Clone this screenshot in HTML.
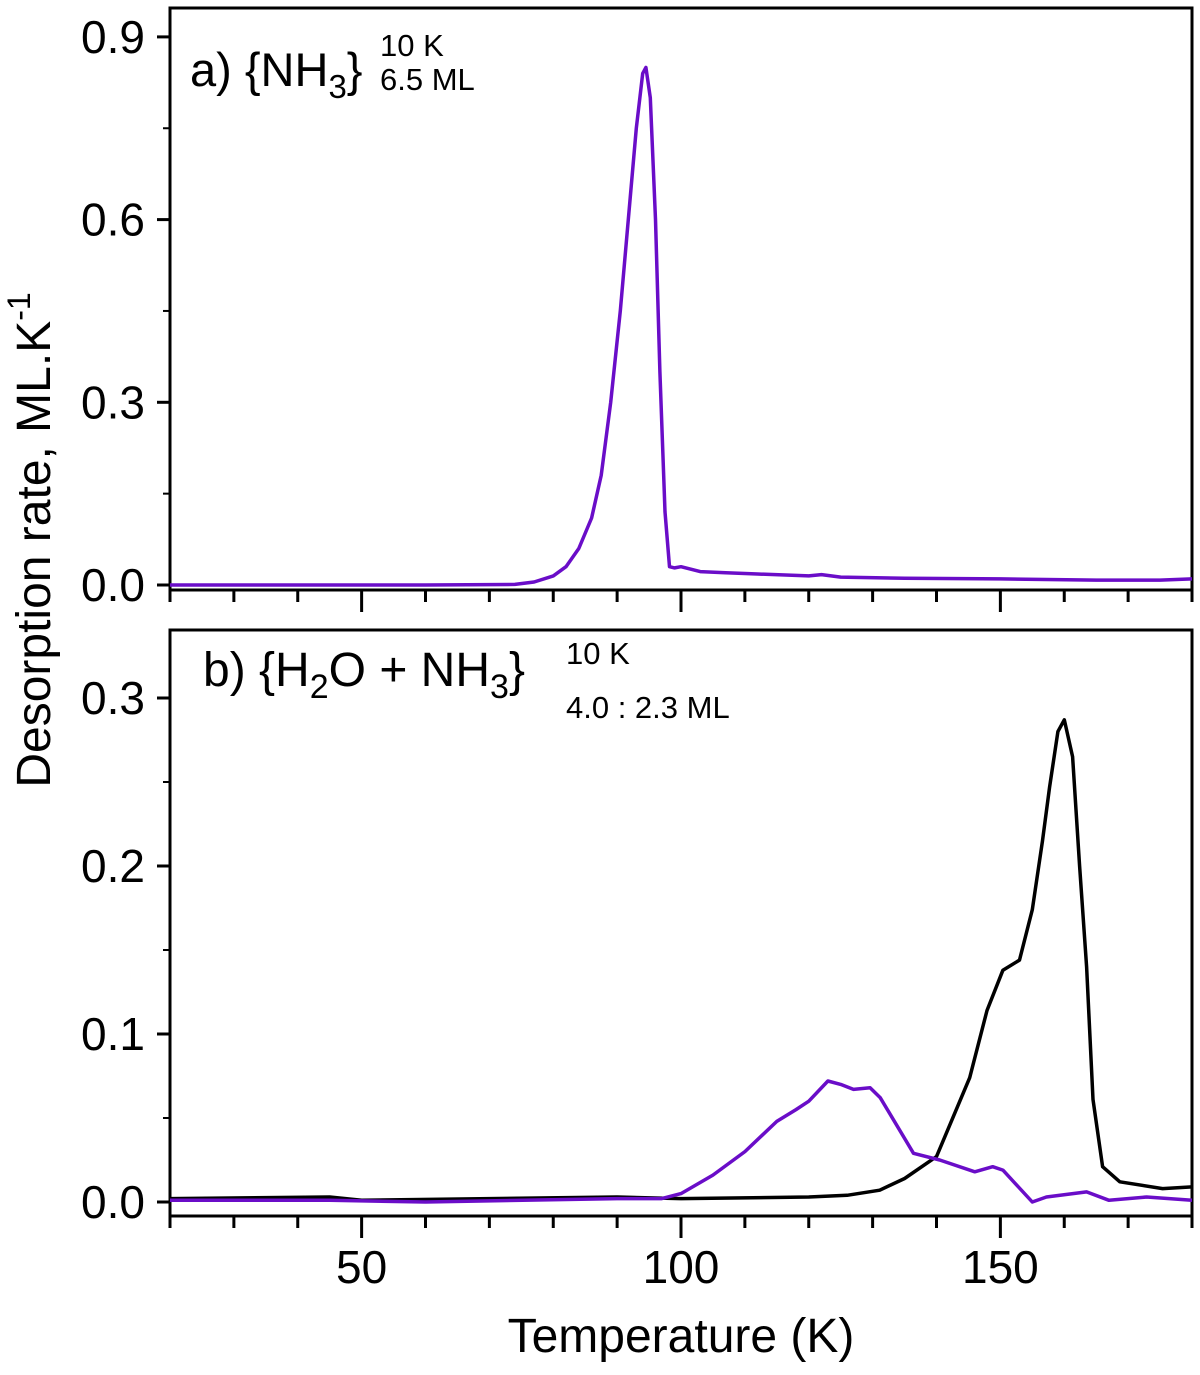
<!DOCTYPE html>
<html><head><meta charset="utf-8"><style>
body{margin:0;background:#fff}
svg text{font-family:"Liberation Sans",Arial,sans-serif;fill:#000}
</style></head><body>
<svg id="chart" width="1200" height="1370" viewBox="0 0 1200 1370" xmlns="http://www.w3.org/2000/svg">
<g id="axes"></g>
<g id="lines"></g>
<text transform="translate(50,540) rotate(-90)" text-anchor="middle" font-size="48">Desorption rate, ML.K<tspan dy="-20" font-size="32">-1</tspan></text>
<text x="681" y="1352" text-anchor="middle" font-size="48">Temperature (K)</text>
<g>
<text x="190" y="86" font-size="47">a) {NH<tspan dy="12" font-size="33">3</tspan><tspan dy="-12">}</tspan></text>
<text x="380" y="56" font-size="31">10 K</text>
<text x="380" y="90" font-size="31">6.5 ML</text>
</g>
<g>
<text x="203" y="686" font-size="48">b) {H<tspan dy="12" font-size="34">2</tspan><tspan dy="-12">O + NH</tspan><tspan dy="12" font-size="34">3</tspan><tspan dy="-12">}</tspan></text>
<text x="566" y="664" font-size="31">10 K</text>
<text x="566" y="718" font-size="31">4.0 : 2.3 ML</text>
</g>
</svg>
<script>
const xTicks=[50,100,150];
const yTicksA=[0.0,0.3,0.6,0.9];
const yTicksB=[0.0,0.1,0.2,0.3];
const aT=[20,40,60,74,77,80,82,84,86,87.5,89,90.5,92,93,94,94.5,95.2,96,96.7,97.5,98.2,99,100,103,107,112,120,122,125,135,150,165,175,180];
const aV=[0,0,0,0.001,0.005,0.015,0.03,0.06,0.11,0.18,0.3,0.45,0.63,0.75,0.84,0.85,0.8,0.6,0.35,0.12,0.03,0.028,0.03,0.022,0.02,0.018,0.015,0.017,0.013,0.011,0.01,0.008,0.008,0.01];
const bPT=[20,45,60,90,97,100,105,110,115,118,120,123,125,127,129.6,131.2,136.4,140.5,146,148.8,150.4,155,157.2,163.5,167,172.9,180];
const bPV=[0.001,0.001,0,0.002,0.002,0.005,0.016,0.03,0.048,0.055,0.06,0.072,0.07,0.067,0.068,0.062,0.029,0.025,0.018,0.021,0.019,0,0.003,0.006,0.001,0.003,0.001];
const bKT=[20,45,50,90,100,120,126,131.1,135,140,145.2,147.9,150.4,153,155,156.6,157.7,159,160,161.3,162.4,163.5,164.5,166,168.7,175.4,180];
const bKV=[0.002,0.003,0.001,0.003,0.002,0.003,0.004,0.007,0.014,0.027,0.074,0.114,0.138,0.144,0.174,0.215,0.247,0.28,0.287,0.265,0.2,0.14,0.061,0.021,0.012,0.008,0.009];
const NS="http://www.w3.org/2000/svg";
const X0=170,X1=1192;
const xs=t=>X0+(t-20)/(180-20)*(X1-X0);
const yA=v=>585-v*609;
const yB=v=>1202-v*1680;
const axes=document.getElementById('axes'),lines=document.getElementById('lines');
function mk(tag,at,parent){const e=document.createElementNS(NS,tag);for(const k in at)e.setAttribute(k,at[k]);parent.appendChild(e);return e;}
function panel(top,bot,ys,yt,name,showXLabels){
  const f=mk('rect',{x:X0,y:top,width:X1-X0,height:bot-top,fill:'none',stroke:'#000','stroke-width':3},axes);
  
  
  for(let t=20;t<=180;t+=10){const maj=xTicks.includes(t);
    const l=mk('line',{x1:xs(t),x2:xs(t),y1:bot,y2:bot+(maj?22:12),stroke:'#000','stroke-width':3},axes);
    
    }
  if(showXLabels)xTicks.forEach(t=>{const tx=mk('text',{x:xs(t),y:bot+67,'text-anchor':'middle','font-size':46},axes);tx.textContent=t;
    
    });
  yt.forEach(v=>{mk('line',{x1:X0-13,x2:X0,y1:ys(v),y2:ys(v),stroke:'#000','stroke-width':3},axes);
    const tx=mk('text',{x:X0-25,y:ys(v)+16,'text-anchor':'end','font-size':46},axes);tx.textContent=v.toFixed(1);
    
    });
  for(let i=0;i<yt.length-1;i++){const v=(yt[i]+yt[i+1])/2;mk('line',{x1:X0-7,x2:X0,y1:ys(v),y2:ys(v),stroke:'#000','stroke-width':2},axes);}
}
panel(8,590,yA,yTicksA,'panel-a',false);
panel(630,1216,yB,yTicksB,'panel-b',true);
function line(T,V,ys,color,name){const d=T.map((t,i)=>(i?'L':'M')+xs(t).toFixed(1)+','+ys(V[i]).toFixed(1)).join('');
  const p=mk('path',{d:d,fill:'none',stroke:color,'stroke-width':3.5,'stroke-linejoin':'round'},lines);
  
  }
line(aT,aV,yA,'#6a0dc8','nh3-curve-a');
line(bKT,bKV,yB,'#000','h2o-curve-b');
line(bPT,bPV,yB,'#6a0dc8','nh3-curve-b');
</script>
</body></html>
